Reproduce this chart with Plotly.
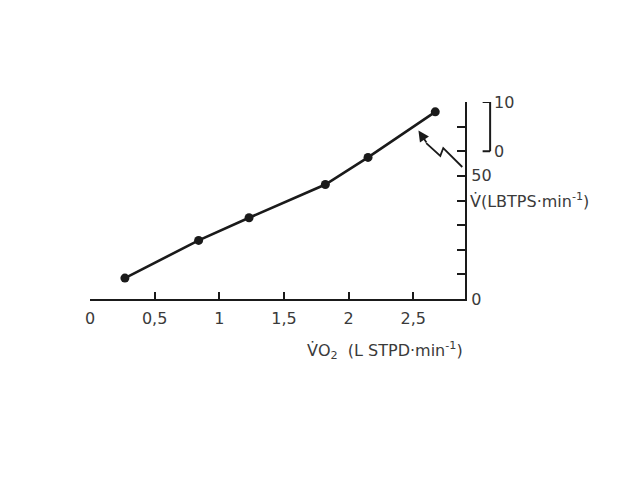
import plotly.graph_objects as go

# Data
vo2 = [0.27, 0.84, 1.23, 1.82, 2.15, 2.67]          # L STPD/min
ve = [8.5, 23.8, 33.0, 46.5, 57.5, 76.0]             # L BTPS/min

x_tickvals = [0, 0.5, 1, 1.5, 2, 2.5]
x_ticktext = ["0", "0,5", "1", "1,5", "2", "2,5"]
y_tickvals = [0, 10, 20, 30, 40, 50, 60, 70, 80]
y_ticktext = ["0", "", "", "", "", "50", "", "", ""]

ink = "#1a1a1a"
txt = "#3a3a3a"
font = "DejaVu Sans"
fs = 16

fig = go.Figure()
fig.add_trace(go.Scatter(
    x=vo2, y=ve, mode="lines+markers",
    line=dict(color=ink, width=2.6),
    marker=dict(color=ink, size=9),
    showlegend=False, hoverinfo="skip"))

fig.update_layout(
    width=635, height=471, autosize=False,
    margin=dict(l=82, r=178, t=94, b=180),
    paper_bgcolor="white", plot_bgcolor="white",
    font=dict(family=font, size=fs, color=txt),
    xaxis=dict(range=[0, 2.9], tickvals=x_tickvals, ticktext=x_ticktext,
               ticks="inside", ticklen=7, tickwidth=1.6, tickcolor=ink,
               ticklabelstandoff=4,
               showline=True, linecolor=ink, linewidth=2.2,
               showgrid=False, zeroline=False, fixedrange=True,
               tickfont=dict(size=fs, color=txt)),
    yaxis=dict(range=[0, 80], side="right", tickvals=y_tickvals, ticktext=y_ticktext,
               ticks="inside", ticklen=8, tickwidth=1.6, tickcolor=ink,
               ticklabelstandoff=1,
               showline=True, linecolor=ink, linewidth=2.2,
               showgrid=False, zeroline=False, fixedrange=True,
               tickfont=dict(size=fs, color=txt)),
)

# axis titles
fig.add_annotation(xref="paper", yref="paper", x=1.0, y=0, yshift=-38,
                   xanchor="right", yanchor="top", showarrow=False,
                   text="V\u0307O<sub>2</sub>  (L STPD\u00b7min<sup>-1</sup>)",
                   font=dict(size=fs, color=txt))
fig.add_annotation(xref="paper", yref="y", x=1.0, y=40, xshift=3,
                   xanchor="left", yanchor="middle", showarrow=False,
                   text="V\u0307(LBTPS\u00b7min<sup>-1</sup>)",
                   font=dict(size=fs, color=txt))

# inset scale bracket (0-10)
bx = 1.067
fig.add_shape(type="line", xref="paper", yref="y", x0=bx, x1=bx, y0=60, y1=80,
              line=dict(color=ink, width=2))
fig.add_shape(type="line", xref="paper", yref="y", x0=bx - 0.02, x1=bx, y0=80, y1=80,
              line=dict(color=ink, width=2))
fig.add_shape(type="line", xref="paper", yref="y", x0=bx - 0.02, x1=bx, y0=60, y1=60,
              line=dict(color=ink, width=2))
fig.add_annotation(xref="paper", yref="y", x=bx, y=80, xshift=2, xanchor="left",
                   yanchor="middle", showarrow=False, text="10",
                   font=dict(size=fs, color=txt))
fig.add_annotation(xref="paper", yref="y", x=bx, y=60, xshift=2, xanchor="left",
                   yanchor="middle", showarrow=False, text="0",
                   font=dict(size=fs, color=txt))

# zig-zag arrow pointing at the line
fig.add_shape(type="path", xref="x", yref="y",
              path="M 2.879 53.6 L 2.732 61.3 L 2.709 58.1 L 2.60 63.3",
              line=dict(color=ink, width=1.8))
fig.add_annotation(xref="x", yref="y", x=2.54, y=68.4, ax=2.61, ay=62.9,
                   axref="x", ayref="y", text="", showarrow=True,
                   arrowhead=2, arrowsize=1.2, arrowwidth=1.8, arrowcolor=ink,
                   standoff=0)

fig.write_html("out.html")
